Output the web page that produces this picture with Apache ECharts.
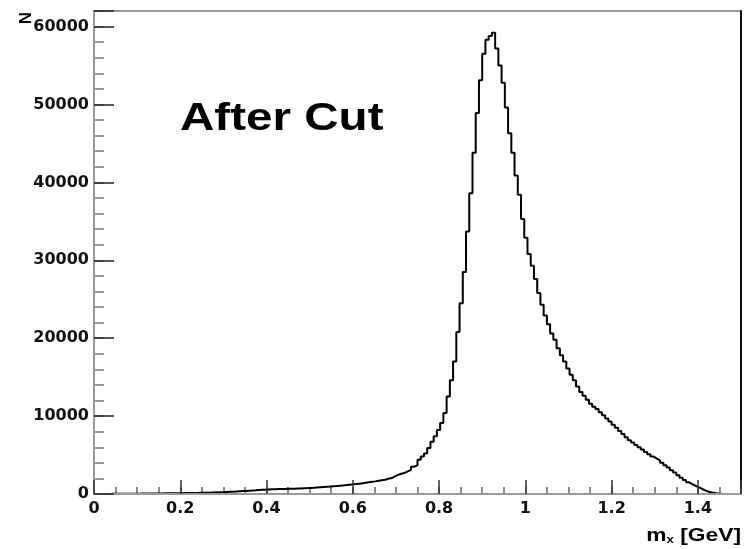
<!DOCTYPE html>
<html><head><meta charset="utf-8">
<script src="https://cdn.jsdelivr.net/npm/echarts@6/dist/echarts.min.js"></script>
<style>html,body{margin:0;padding:0;background:#fff}#c{width:754px;height:549px}</style>
</head><body><div id="c"></div>
<script>
// ---- data ----
const binLow = 0;
const binWidth = 0.0075;           // 200 bins over 0 .. 1.5 GeV
const counts = [
  5, 8, 10, 12, 15, 18, 20, 22, 25, 28,
  30, 35, 40, 45, 50, 55, 60, 65, 70, 75,
  80, 85, 90, 95, 100, 105, 110, 115, 120, 125,
  130, 140, 150, 160, 170, 180, 195, 210, 225, 240,
  260, 280, 300, 320, 345, 370, 395, 420, 445, 470,
  500, 530, 560, 580, 600, 615, 630, 640, 650, 660,
  670, 685, 700, 715, 735, 755, 780, 805, 835, 865,
  895, 925, 955, 990, 1025, 1065, 1105, 1145, 1190, 1235,
  1280, 1330, 1380, 1440, 1500, 1560, 1620, 1690, 1760, 1830,
  1950, 2050, 2250, 2450, 2600, 2700, 2900, 3100, 3500, 3700,
  4400, 4800, 5200, 5900, 6700, 7400, 8200, 9100, 10400, 12500,
  14600, 17000, 20800, 24500, 28500, 33700, 38600, 43800, 48900, 53100,
  56500, 58300, 58800, 59200, 57200, 55000, 52800, 49600, 46300, 43800,
  40900, 38400, 35300, 32900, 30800, 29300, 27600, 25800, 24300, 22900,
  21800, 20600, 19800, 18700, 17800, 17000, 16100, 15300, 14600, 13800,
  13100, 12600, 12100, 11600, 11200, 10900, 10500, 10100, 9700, 9300,
  8900, 8500, 8100, 7700, 7300, 6900, 6600, 6300, 6000, 5700,
  5400, 5100, 4800, 4550, 4300, 4000, 3700, 3400, 3050, 2750,
  2400, 2100, 1800, 1500, 1250, 1050, 850, 650, 450, 300,
  200, 120, 60, 20, 0, 0, 0, 0, 0, 0
];
const xMajorTicks = [0, 0.2, 0.4, 0.6, 0.8, 1, 1.2, 1.4];
const yMajorTicks = [0, 10000, 20000, 30000, 40000, 50000, 60000];
const xRange = [0, 1.5];
const yRange = [0, 62000];
const xMajorStep = 0.2;
const yMajorStep = 10000;
const xMinorStep = 0.05;
const yMinorStep = 2000;
const titleText = 'After Cut';
const yTitle = 'N';

// ---- build histogram outline (bin left edges, step 'end') ----
const seriesData = counts.map((c, i) => [+(binLow + i * binWidth).toFixed(6), c]);
seriesData.push([+(binLow + counts.length * binWidth).toFixed(6), counts[counts.length - 1]]);

const labelFont = { fontFamily: 'DejaVu Sans', fontWeight: 'bold', fontSize: 16, color: '#111' };
const grey = '#9a9a9a';

const chart = echarts.init(document.getElementById('c'), null, { renderer: 'canvas' });
chart.setOption({
  backgroundColor: '#fff',
  animation: false,
  grid: { left: 94, right: 13, top: 11, bottom: 55, show: true, borderColor: grey, borderWidth: 2 },
  xAxis: [
    { type: 'value', position: 'bottom', min: xRange[0], max: xRange[1], interval: xMajorStep,
      axisLine: { show: true, lineStyle: { color: grey, width: 2 } },
      axisTick: { show: true, inside: true, length: 14, lineStyle: { color: '#333', width: 1.5 } },
      axisLabel: { show: true, margin: 7, customValues: xMajorTicks, ...labelFont,
        formatter: v => String(v) },
      splitLine: { show: false }, z: 5 },
    { type: 'value', position: 'bottom', min: xRange[0], max: xRange[1], interval: xMinorStep,
      axisLine: { show: false },
      axisTick: { show: true, inside: true, length: 7, lineStyle: { color: '#666', width: 1.5 } },
      axisLabel: { show: false }, splitLine: { show: false } }
  ],
  yAxis: [
    { type: 'value', position: 'left', min: yRange[0], max: yRange[1], interval: yMajorStep,
      axisLine: { show: true, lineStyle: { color: grey, width: 2 } },
      axisTick: { show: true, inside: true, length: 20, lineStyle: { color: '#222', width: 1.5 } },
      axisLabel: { show: true, margin: 5, customValues: yMajorTicks, ...labelFont,
        formatter: v => String(v) },
      splitLine: { show: false }, z: 5 },
    { type: 'value', position: 'left', min: yRange[0], max: yRange[1], interval: yMinorStep,
      axisLine: { show: false },
      axisTick: { show: true, inside: true, length: 10, lineStyle: { color: '#777', width: 1.5 } },
      axisLabel: { show: false }, splitLine: { show: false } },
    { type: 'value', position: 'right', min: yRange[0], max: yRange[1],
      axisLine: { show: true, lineStyle: { color: '#111', width: 2 } },
      axisTick: { show: false }, axisLabel: { show: false }, splitLine: { show: false } }
  ],
  series: [{
    type: 'line', xAxisIndex: 0, yAxisIndex: 0, step: 'end', data: seriesData,
    symbol: 'none', lineStyle: { color: '#000', width: 2 }, z: 3
  }],
  graphic: [
    { type: 'text', x: 180, y: 119, scaleX: 1.22,
      style: { text: titleText, font: 'bold 39px "Liberation Sans"', fill: '#000', align: 'left', verticalAlign: 'middle' } },
    { type: 'text', x: 26, y: 18, rotation: Math.PI / 2,
      style: { text: yTitle, font: 'bold 17px "Liberation Sans"', fill: '#000', align: 'center', verticalAlign: 'middle' } },
    { type: 'text', x: 741, y: 536, scaleX: 1.2,
      style: { text: '{a|m}{b|x}{a| [GeV]}', align: 'right', verticalAlign: 'middle', fill: '#000',
        rich: { a: { font: 'bold 19px "Liberation Sans"', fill: '#000' },
                b: { font: 'bold 11px "Liberation Sans"', fill: '#000', padding: [7, 0, 0, 0] } } } }
  ]
});
</script>
</body></html>
